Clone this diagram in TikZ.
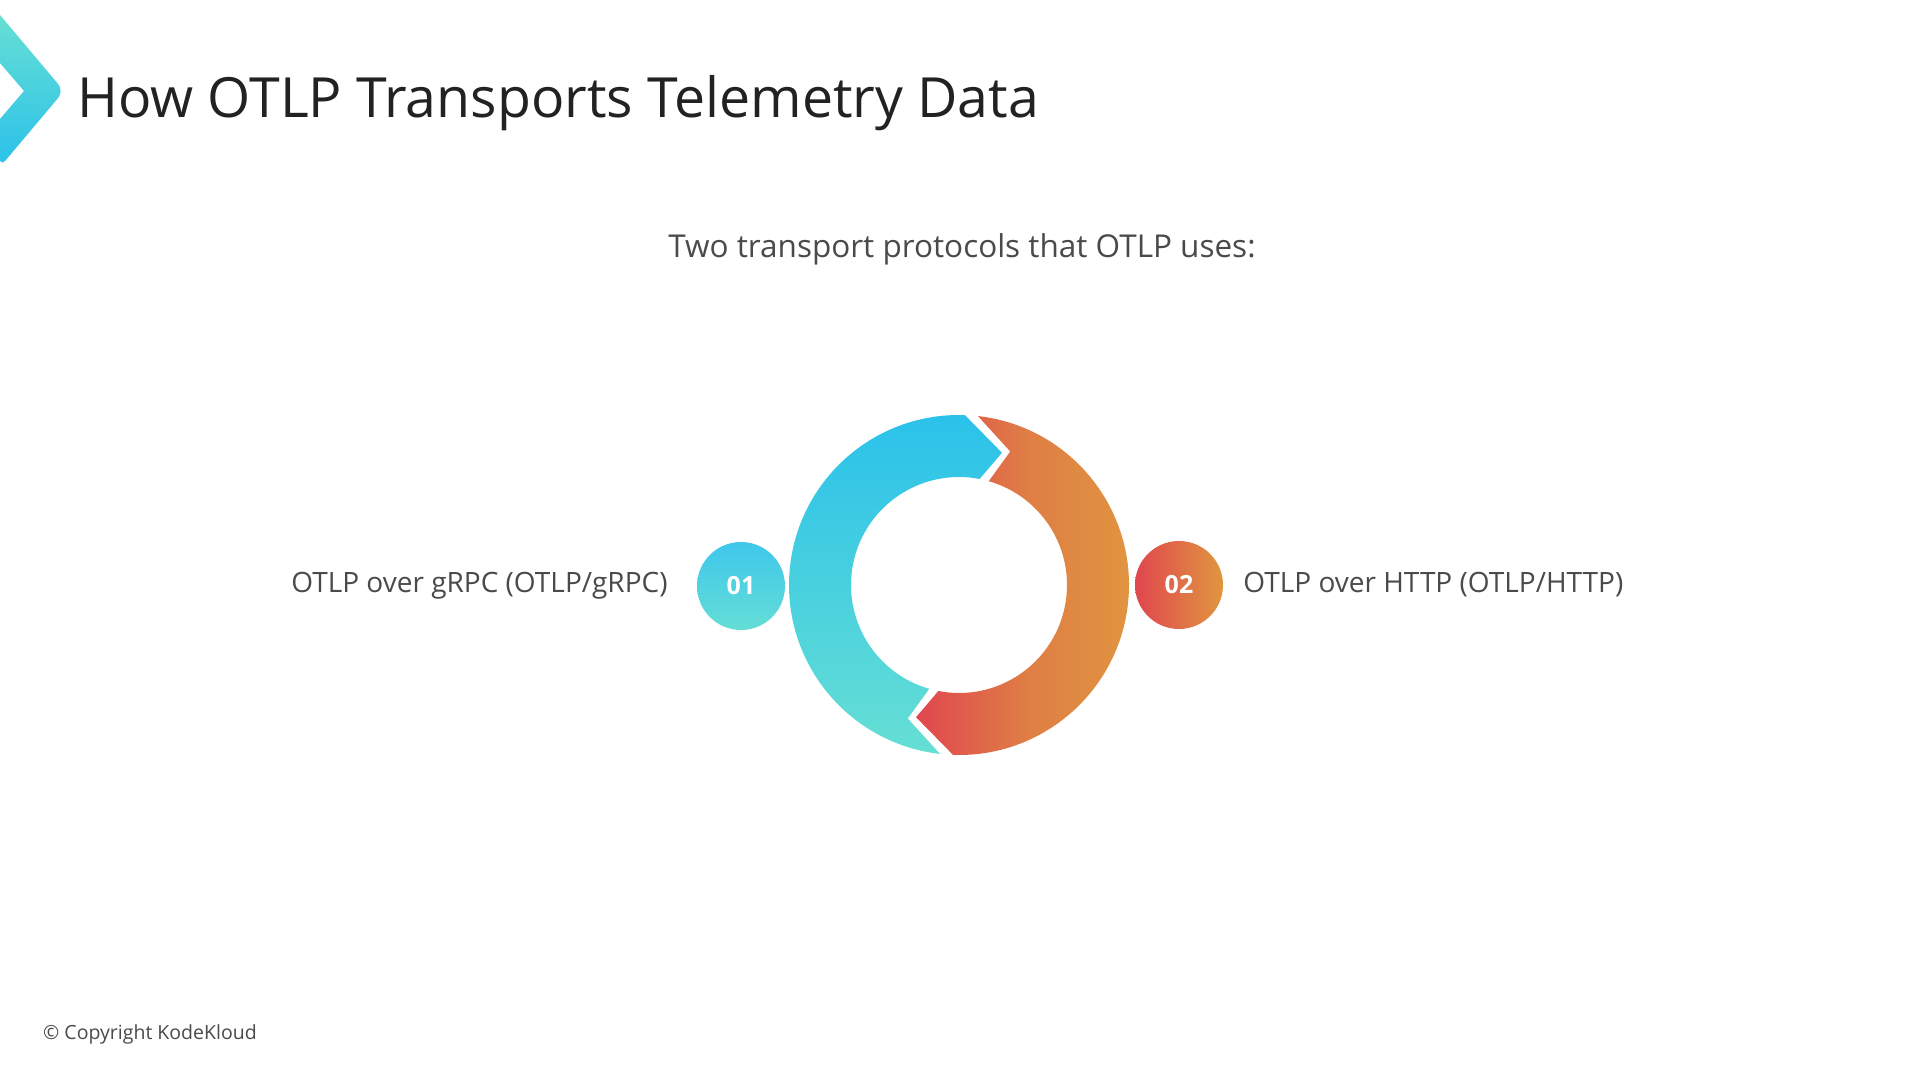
\documentclass[tikz,border=0pt]{standalone}
\usepackage{fontspec}
\setmainfont{Open Sans}
\usepackage{xcolor}
\usetikzlibrary{positioning,calc}

\definecolor{kkcyan}{HTML}{2AC1EA}
\definecolor{kkteal}{HTML}{66DFD4}
\definecolor{kkred}{HTML}{E0464F}
\definecolor{kkmid}{HTML}{DF7E45}
\definecolor{kkorange}{HTML}{E0963F}
\definecolor{kkdark}{HTML}{222222}
\definecolor{kkgray}{HTML}{4A4A4A}

\begin{document}
\begin{tikzpicture}[
    x=1pt, y=1pt,
    title/.style={anchor=base west, inner sep=0, text=kkdark, font=\fontsize{55.4}{60}\selectfont},
    sub/.style={anchor=base, inner sep=0, text=kkgray, font=\fontsize{31.5}{36}\selectfont},
    lbl/.style={inner sep=0, text=kkgray, font=\fontsize{28}{33}\selectfont},
    badge/.style={circle, minimum size=88pt, inner sep=0, text=white, font=\fontsize{25}{30}\selectfont\bfseries},
    copy/.style={anchor=base west, inner sep=0, text=kkgray, font=\fontsize{19.5}{22}\selectfont}
]
\useasboundingbox[fill=white] (0,0) rectangle (1920,1080);

% Logo chevron
\shade[top color=kkteal, bottom color=kkcyan, rounded corners=9pt]
    (0,1065) -- (64,989) -- (0,913) [sharp corners] -- (0,961) -- (24,989) -- (0,1017) -- cycle;

% Title and subtitle
\node[title] (ttl) at (77,962) {How OTLP Transports Telemetry Data};
\node[sub] (intro) at (962,822) {Two transport protocols that OTLP uses:};

% Ring of two arrows
\coordinate (c) at (959,495);
\begin{scope}[shift={(c)}]
\shade[top color=kkcyan, bottom color=kkteal]
    (88:170) arc[start angle=88, end angle=263.6, radius=170pt]
    -- (249:143) -- (254:108)
    arc[start angle=254, end angle=79, radius=108pt]
    -- (72:139) -- cycle;
\shade[left color=kkred, right color=kkorange, middle color=kkmid]
    (83.6:170) arc[start angle=83.6, end angle=-92, radius=170pt]
    -- (-108:139) -- (-101:108)
    arc[start angle=-101, end angle=74, radius=108pt]
    -- (69:143) -- cycle;
\end{scope}

% Badges
\node[badge, top color=kkcyan!90!white, bottom color=kkteal!95!kkcyan] (b1) at (741,494) {01};
\node[badge, left color=kkred, right color=kkorange] (b2) at (1179,495) {02};

% Labels
\node[lbl, anchor=base east] (grpc) at ([xshift=-29pt, yshift=-7pt]b1.west) {OTLP over gRPC (OTLP/gRPC)};
\node[lbl, anchor=base west] (http) at ([xshift=20pt, yshift=-8pt]b2.east) {OTLP over HTTP (OTLP/HTTP)};

% Footer
\node[copy] (cr) at (43,41) {\textcopyright{} Copyright KodeKloud};

\end{tikzpicture}
\end{document}
